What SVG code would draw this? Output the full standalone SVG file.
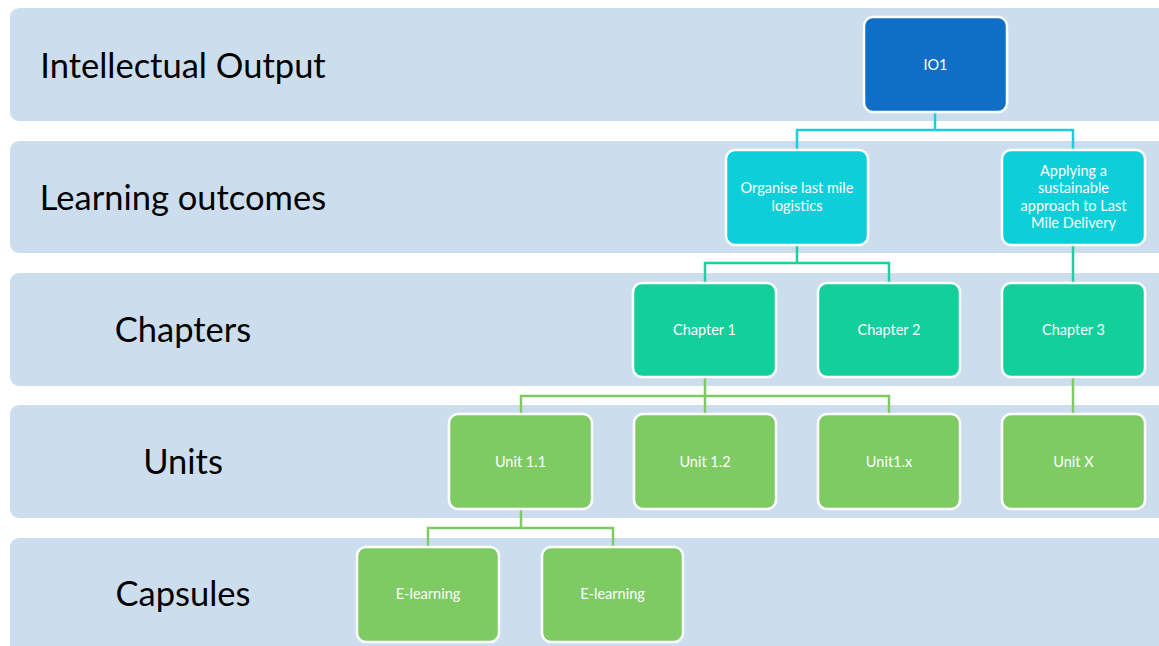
<svg xmlns="http://www.w3.org/2000/svg" width="1159" height="646" viewBox="0 0 1159 646">
  <style>
    .band { fill: #CCDEEE; }
    .band-label { font-family: Lato, "Liberation Sans", sans-serif; font-size: 34.5px; fill: #000000; text-anchor: middle; dominant-baseline: central; }
    .node rect { stroke: #FFFFFF; stroke-width: 2.5; }
    .node text { font-family: Lato, "Liberation Sans", sans-serif; font-size: 14.5px; fill: #FFFFFF; text-anchor: middle; dominant-baseline: central; }
    .io rect { fill: #0F6FC6; }
    .lo rect { fill: #0DCFDA; }
    .ch rect { fill: #12CF9B; }
    .un rect { fill: #7ECB63; }
    .conn { fill: none; stroke-width: 2.5; }
    .c-io { stroke: #17D0D9; }
    .c-lo { stroke: #1ECF9D; }
    .c-ch { stroke: #7ECB63; }
  </style>

  <rect width="1159" height="646" fill="#FFFFFF"/>

  <!-- horizontal level bands -->
  <g id="bands">
    <rect class="band" x="10" y="8" width="1160" height="113" rx="9"/>
    <rect class="band" x="10" y="141" width="1160" height="112" rx="9"/>
    <rect class="band" x="10" y="273" width="1160" height="113" rx="9"/>
    <rect class="band" x="10" y="405" width="1160" height="113" rx="9"/>
    <rect class="band" x="10" y="538" width="1160" height="120" rx="9"/>
    <text class="band-label" x="183" y="64">Intellectual Output</text>
    <text class="band-label" x="183" y="196">Learning outcomes</text>
    <text class="band-label" x="183" y="328">Chapters</text>
    <text class="band-label" x="183" y="460">Units</text>
    <text class="band-label" x="183" y="592">Capsules</text>
  </g>

  <!-- connectors -->
  <g id="connectors">
    <path class="conn c-io" d="M935 112 V130 M797 150 V130 H1073 V150"/>
    <path class="conn c-lo" d="M797 245 V263 M705 283 V263 H889 V283"/>
    <path class="conn c-lo" d="M1073 245 V283"/>
    <path class="conn c-ch" d="M705 377 V396 M521 414 V396 H889 V414 M705 396 V414"/>
    <path class="conn c-ch" d="M1073 377 V414"/>
    <path class="conn c-ch" d="M521 509 V528 M428 547 V528 H613 V547"/>
  </g>

  <!-- nodes -->
  <g id="io1" class="node io">
    <rect x="864" y="17" width="143" height="95" rx="9"/>
    <text x="935.5" y="64.5">IO1</text>
  </g>

  <g id="lo1" class="node lo">
    <rect x="726" y="150" width="142" height="95" rx="9"/>
    <text x="797" y="187.5">Organise last mile</text>
    <text x="797" y="205.5">logistics</text>
  </g>
  <g id="lo2" class="node lo">
    <rect x="1002" y="150" width="143" height="95" rx="9"/>
    <text x="1073.5" y="170.5">Applying a</text>
    <text x="1073.5" y="187.5">sustainable</text>
    <text x="1073.5" y="205">approach to Last</text>
    <text x="1073.5" y="222">Mile Delivery</text>
  </g>

  <g id="ch1" class="node ch">
    <rect x="633" y="283" width="143" height="94" rx="9"/>
    <text x="704.5" y="329.5">Chapter 1</text>
  </g>
  <g id="ch2" class="node ch">
    <rect x="818" y="283" width="142" height="94" rx="9"/>
    <text x="889" y="329.5">Chapter 2</text>
  </g>
  <g id="ch3" class="node ch">
    <rect x="1002" y="283" width="143" height="94" rx="9"/>
    <text x="1073.5" y="329.5">Chapter 3</text>
  </g>

  <g id="unit11" class="node un">
    <rect x="449" y="414" width="143" height="95" rx="9"/>
    <text x="520.5" y="461.5">Unit 1.1</text>
  </g>
  <g id="unit12" class="node un">
    <rect x="634" y="414" width="142" height="95" rx="9"/>
    <text x="705" y="461.5">Unit 1.2</text>
  </g>
  <g id="unit1x" class="node un">
    <rect x="818" y="414" width="142" height="95" rx="9"/>
    <text x="889" y="461.5">Unit1.x</text>
  </g>
  <g id="unitx" class="node un">
    <rect x="1002" y="414" width="143" height="95" rx="9"/>
    <text x="1073.5" y="461.5">Unit X</text>
  </g>

  <g id="elearning1" class="node un">
    <rect x="357" y="547" width="142" height="95" rx="9"/>
    <text x="428" y="593.5">E-learning</text>
  </g>
  <g id="elearning2" class="node un">
    <rect x="542" y="547" width="141" height="95" rx="9"/>
    <text x="612.5" y="593.5">E-learning</text>
  </g>
</svg>
